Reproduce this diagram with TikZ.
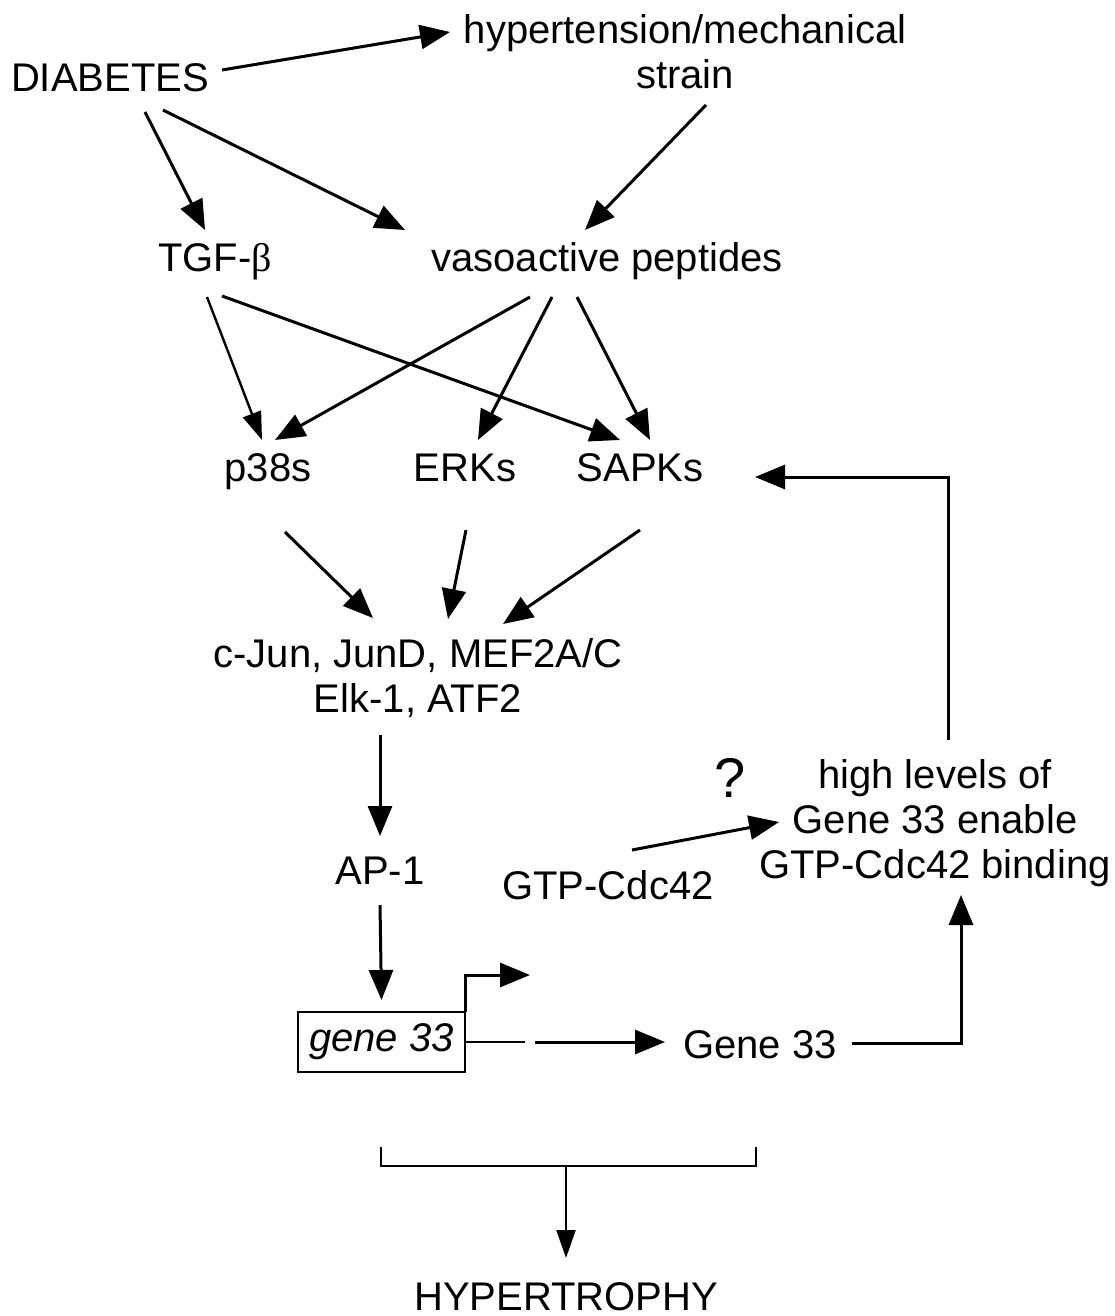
\documentclass[tikz,border=0pt]{standalone}
\usepackage{fontspec}
\setmainfont{Liberation Sans}
\newfontfamily\grkfont{Liberation Serif}
\usetikzlibrary{arrows.meta,calc}
\begin{document}
\begin{tikzpicture}[x=1pt,y=-1pt,
  every node/.style={inner sep=0pt,outer sep=0pt,font=\fontsize{40}{45}\selectfont},
  lbl/.style={anchor=base},
  mlbl/.style={anchor=center,align=center},
  arr/.style={line width=3pt,-{Triangle[length=30pt,width=24pt]}},
  thinarr/.style={line width=2.4pt,-{Triangle[length=28pt,width=19pt]}},
  plain/.style={line width=2.2pt}]
\useasboundingbox[fill=white] (0,0) rectangle (1115,1316);

\node[lbl] (diab) at (110,92) {DIABETES};
\node[mlbl] (hyp) at (685,52) {hypertension/mechanical\\strain};
\node[lbl] (tgf) at (215,271) {TGF-{\grkfont β}};
\node[lbl] (vaso) at (607,271) {vasoactive peptides};
\node[lbl] (p38) at (268,481) {p38s};
\node[lbl] (erk) at (465,481) {ERKs};
\node[lbl] (sapk) at (640,481) {SAPKs};
\node[mlbl] (cjun) at (418,678) {c-Jun, JunD, MEF2A/C\\Elk-1, ATF2};
\node[lbl] (ap1) at (380,884) {AP-1};
\node[lbl,font=\fontsize{56}{60}\selectfont] (q) at (730,797) {?};
\node[mlbl] (hl) at (935,823) {high levels of\\Gene 33 enable\\GTP-Cdc42 binding};
\node[lbl] (gtp) at (608,899) {GTP-Cdc42};
\node[draw,line width=2pt,minimum width=167pt,minimum height=60pt] (gene) at (381.5,1042) {\itshape gene 33};
\node[lbl] (g33) at (760,1058) {Gene 33};
\node[lbl] (hyper) at (566,1310) {HYPERTROPHY};

% top level
\draw[arr] ($(diab.base)+(112,-22)$) -- ($(hyp.center)+(-235,-20)$);
\draw[arr] ($(diab.base)+(35,20)$) -- ($(tgf.base)+(-10,-41)$);
\draw[arr] ($(diab.base)+(53,18)$) -- ($(vaso.base)+(-202,-41)$);
\draw[arr] ($(hyp.center)+(21,53)$) -- ($(vaso.base)+(-22,-41)$);

% to kinases
\draw[thinarr] ($(tgf.base)+(-8,26)$) -- ($(p38.base)+(-6,-41)$);
\draw[arr] ($(tgf.base)+(7,25)$) -- ($(sapk.base)+(-20,-41)$);
\draw[arr] ($(vaso.base)+(-77,26)$) -- ($(p38.base)+(7,-41)$);
\draw[arr] ($(vaso.base)+(-55,26)$) -- ($(erk.base)+(13,-41)$);
\draw[arr] ($(vaso.base)+(-30,26)$) -- ($(sapk.base)+(10,-41)$);

% kinases to TFs
\draw[arr] ($(p38.base)+(17,51)$) -- ($(cjun.center)+(-45,-60)$);
\draw[arr] ($(erk.base)+(1,49)$) -- ($(cjun.center)+(30,-59)$);
\draw[arr] ($(sapk.base)+(0,49)$) -- ($(cjun.center)+(85,-54)$);

% down the left column
\draw[arr] ($(cjun.center)+(-38,57)$) -- ($(ap1.base)+(0,-48)$);
\draw[arr] ($(ap1.base)+(0,21)$) -- ([yshift=12pt]gene.north);
\draw[arr] (gene.north east) -- ++(0,-37) -- ++(65,0);
\draw[plain] (gene.east) -- ++(60,0);
\draw[arr] ($(gene.east)+(70,0)$) -- ($(g33.base)+(-95,-16)$);

% right side loop
\draw[arr] ($(g33.base)+(92,-15)$) -| ($(hl.center)+(26,72)$);
\draw[arr] ($(hl.center)+(13,-83)$) |- ($(sapk.base)+(115,-4)$);
\draw[arr] ($(gtp.base)+(24,-49)$) -- ($(hl.center)+(-156,-1)$);

% bracket
\coordinate (bl) at (381,1166);
\coordinate (br) at (756,1166);
\draw[plain] ($(bl)+(0,-19)$) -- (bl) -- (br) -- ($(br)+(0,-19)$);
\draw[thinarr] (hyper.base |- bl) -- ($(hyper.base)+(0,-52)$);
\end{tikzpicture}
\end{document}
